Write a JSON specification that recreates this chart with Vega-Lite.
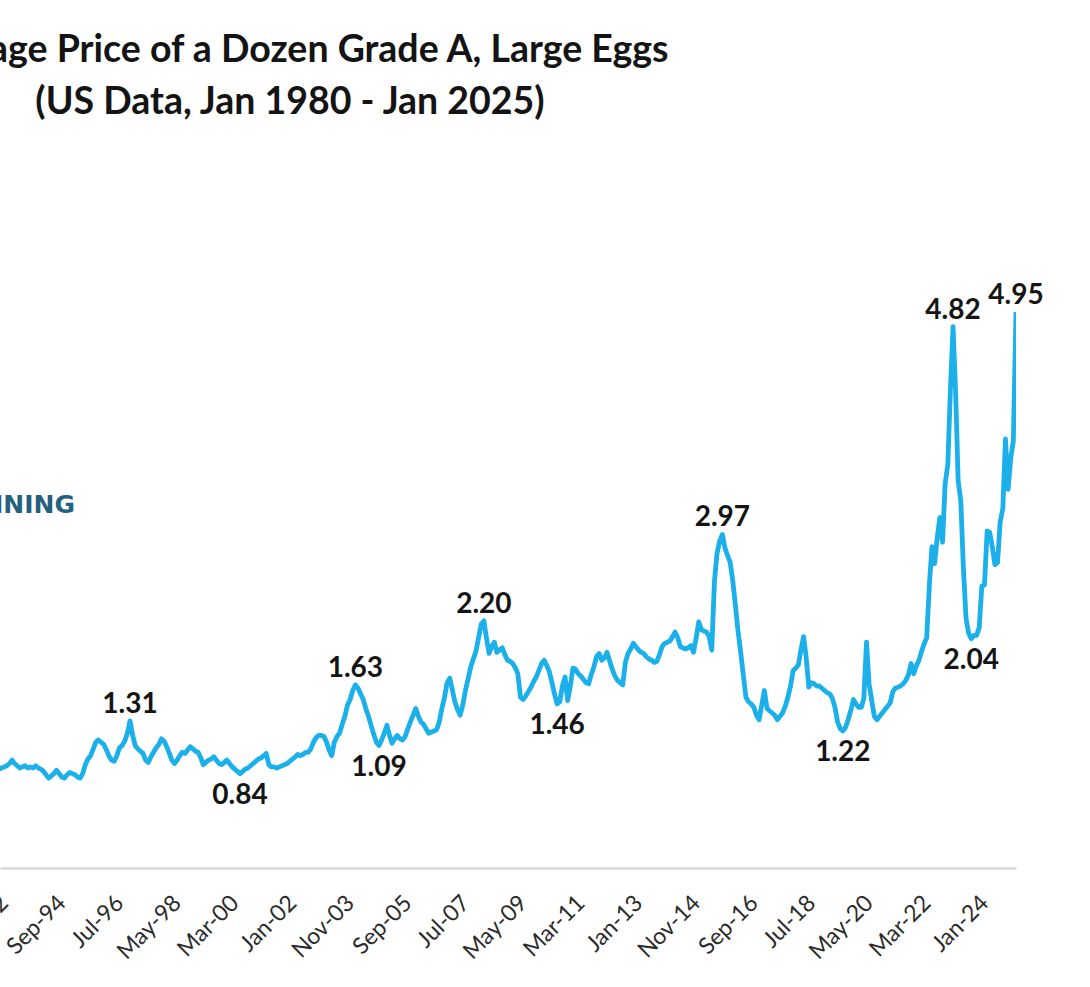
{
  "$schema": "https://vega.github.io/schema/vega-lite/v6.json",
  "width": 1016,
  "height": 674,
  "autosize": {"type": "none"},
  "padding": {"left": 0, "top": 194, "right": 74, "bottom": 119},
  "background": "white",
  "config": {"view": {"stroke": null}, "font": "Lato"},
  "title": {
    "text": ["Average Price of a Dozen Grade A, Large Eggs", "(US Data, Jan 1980 - Jan 2025)"],
    "font": "Lato", "fontSize": 37.5, "fontWeight": "bold", "color": "#141414",
    "lineHeight": 52, "anchor": "middle", "dx": -218, "offset": 73
  },
  "data": {"values": [
    {"date":"1992-08","price":0.88},{"date":"1992-09","price":0.88},{"date":"1992-10","price":0.89},{"date":"1992-11","price":0.90},{"date":"1992-12","price":0.91},
    {"date":"1993-01","price":0.93},{"date":"1993-02","price":0.96},{"date":"1993-03","price":0.93},{"date":"1993-04","price":0.91},{"date":"1993-05","price":0.89},{"date":"1993-06","price":0.90},{"date":"1993-07","price":0.91},{"date":"1993-08","price":0.89},{"date":"1993-09","price":0.90},{"date":"1993-10","price":0.89},{"date":"1993-11","price":0.91},{"date":"1993-12","price":0.89},
    {"date":"1994-01","price":0.88},{"date":"1994-02","price":0.86},{"date":"1994-03","price":0.83},{"date":"1994-04","price":0.80},{"date":"1994-05","price":0.82},{"date":"1994-06","price":0.84},{"date":"1994-07","price":0.87},{"date":"1994-08","price":0.84},{"date":"1994-09","price":0.81},{"date":"1994-10","price":0.80},{"date":"1994-11","price":0.83},{"date":"1994-12","price":0.85},
    {"date":"1995-01","price":0.84},{"date":"1995-02","price":0.83},{"date":"1995-03","price":0.81},{"date":"1995-04","price":0.80},{"date":"1995-05","price":0.84},{"date":"1995-06","price":0.92},{"date":"1995-07","price":0.97},{"date":"1995-08","price":1.00},{"date":"1995-09","price":1.06},{"date":"1995-10","price":1.12},{"date":"1995-11","price":1.14},{"date":"1995-12","price":1.12},
    {"date":"1996-01","price":1.10},{"date":"1996-02","price":1.05},{"date":"1996-03","price":1.00},{"date":"1996-04","price":0.96},{"date":"1996-05","price":0.95},{"date":"1996-06","price":1.00},{"date":"1996-07","price":1.07},{"date":"1996-08","price":1.09},{"date":"1996-09","price":1.13},{"date":"1996-10","price":1.20},{"date":"1996-11","price":1.31,"note":"peak"},{"date":"1996-12","price":1.18},
    {"date":"1997-01","price":1.09},{"date":"1997-02","price":1.06},{"date":"1997-03","price":1.04},{"date":"1997-04","price":1.02},{"date":"1997-05","price":0.96},{"date":"1997-06","price":0.94},{"date":"1997-07","price":0.99},{"date":"1997-08","price":1.03},{"date":"1997-09","price":1.07},{"date":"1997-10","price":1.10},{"date":"1997-11","price":1.15},{"date":"1997-12","price":1.13},
    {"date":"1998-01","price":1.08},{"date":"1998-02","price":1.02},{"date":"1998-03","price":0.96},{"date":"1998-04","price":0.93},{"date":"1998-05","price":0.96},{"date":"1998-06","price":1.00},{"date":"1998-07","price":1.03},{"date":"1998-08","price":1.02},{"date":"1998-09","price":1.05},{"date":"1998-10","price":1.08},{"date":"1998-11","price":1.06},{"date":"1998-12","price":1.04},
    {"date":"1999-01","price":1.03},{"date":"1999-02","price":0.98},{"date":"1999-03","price":0.92},{"date":"1999-04","price":0.94},{"date":"1999-05","price":0.96},{"date":"1999-06","price":0.97},{"date":"1999-07","price":0.99},{"date":"1999-08","price":0.96},{"date":"1999-09","price":0.93},{"date":"1999-10","price":0.92},{"date":"1999-11","price":0.94},{"date":"1999-12","price":0.96},
    {"date":"2000-01","price":0.93},{"date":"2000-02","price":0.90},{"date":"2000-03","price":0.88},{"date":"2000-04","price":0.86},{"date":"2000-05","price":0.84,"note":"trough"},{"date":"2000-06","price":0.86},{"date":"2000-07","price":0.88},{"date":"2000-08","price":0.89},{"date":"2000-09","price":0.91},{"date":"2000-10","price":0.93},{"date":"2000-11","price":0.95},{"date":"2000-12","price":0.97},
    {"date":"2001-01","price":0.98},{"date":"2001-02","price":1.00},{"date":"2001-03","price":1.02},{"date":"2001-04","price":0.92},{"date":"2001-05","price":0.90},{"date":"2001-06","price":0.90},{"date":"2001-07","price":0.89},{"date":"2001-08","price":0.90},{"date":"2001-09","price":0.91},{"date":"2001-10","price":0.92},{"date":"2001-11","price":0.93},{"date":"2001-12","price":0.95},
    {"date":"2002-01","price":0.97},{"date":"2002-02","price":0.99},{"date":"2002-03","price":1.01},{"date":"2002-04","price":1.00},{"date":"2002-05","price":1.01},{"date":"2002-06","price":1.03},{"date":"2002-07","price":1.03},{"date":"2002-08","price":1.06},{"date":"2002-09","price":1.12},{"date":"2002-10","price":1.16},{"date":"2002-11","price":1.18},{"date":"2002-12","price":1.18},
    {"date":"2003-01","price":1.17},{"date":"2003-02","price":1.12},{"date":"2003-03","price":1.05},{"date":"2003-04","price":1.00},{"date":"2003-05","price":1.12},{"date":"2003-06","price":1.17},{"date":"2003-07","price":1.20},{"date":"2003-08","price":1.28},{"date":"2003-09","price":1.35},{"date":"2003-10","price":1.45},{"date":"2003-11","price":1.50},{"date":"2003-12","price":1.58},
    {"date":"2004-01","price":1.63,"note":"peak"},{"date":"2004-02","price":1.60},{"date":"2004-03","price":1.55},{"date":"2004-04","price":1.50},{"date":"2004-05","price":1.42},{"date":"2004-06","price":1.35},{"date":"2004-07","price":1.27},{"date":"2004-08","price":1.19},{"date":"2004-09","price":1.12},{"date":"2004-10","price":1.09,"note":"trough"},{"date":"2004-11","price":1.14},{"date":"2004-12","price":1.20},
    {"date":"2005-01","price":1.27},{"date":"2005-02","price":1.18},{"date":"2005-03","price":1.11},{"date":"2005-04","price":1.15},{"date":"2005-05","price":1.18},{"date":"2005-06","price":1.15},{"date":"2005-07","price":1.14},{"date":"2005-08","price":1.17},{"date":"2005-09","price":1.24},{"date":"2005-10","price":1.30},{"date":"2005-11","price":1.36},{"date":"2005-12","price":1.42},
    {"date":"2006-01","price":1.35},{"date":"2006-02","price":1.30},{"date":"2006-03","price":1.28},{"date":"2006-04","price":1.24},{"date":"2006-05","price":1.20},{"date":"2006-06","price":1.21},{"date":"2006-07","price":1.22},{"date":"2006-08","price":1.23},{"date":"2006-09","price":1.30},{"date":"2006-10","price":1.42},{"date":"2006-11","price":1.52},{"date":"2006-12","price":1.65},
    {"date":"2007-01","price":1.69},{"date":"2007-02","price":1.58},{"date":"2007-03","price":1.48},{"date":"2007-04","price":1.41},{"date":"2007-05","price":1.36},{"date":"2007-06","price":1.45},{"date":"2007-07","price":1.58},{"date":"2007-08","price":1.68},{"date":"2007-09","price":1.79},{"date":"2007-10","price":1.86},{"date":"2007-11","price":1.93},{"date":"2007-12","price":2.05},
    {"date":"2008-01","price":2.17},{"date":"2008-02","price":2.20,"note":"peak"},{"date":"2008-03","price":2.05},{"date":"2008-04","price":1.91},{"date":"2008-05","price":1.97},{"date":"2008-06","price":2.01},{"date":"2008-07","price":1.92},{"date":"2008-08","price":1.94},{"date":"2008-09","price":1.96},{"date":"2008-10","price":1.90},{"date":"2008-11","price":1.85},{"date":"2008-12","price":1.84},
    {"date":"2009-01","price":1.82},{"date":"2009-02","price":1.78},{"date":"2009-03","price":1.73},{"date":"2009-04","price":1.52},{"date":"2009-05","price":1.50},{"date":"2009-06","price":1.53},{"date":"2009-07","price":1.57},{"date":"2009-08","price":1.61},{"date":"2009-09","price":1.66},{"date":"2009-10","price":1.70},{"date":"2009-11","price":1.76},{"date":"2009-12","price":1.82},
    {"date":"2010-01","price":1.85},{"date":"2010-02","price":1.80},{"date":"2010-03","price":1.75},{"date":"2010-04","price":1.65},{"date":"2010-05","price":1.55},{"date":"2010-06","price":1.46,"note":"trough"},{"date":"2010-07","price":1.48},{"date":"2010-08","price":1.62},{"date":"2010-09","price":1.70},{"date":"2010-10","price":1.49},{"date":"2010-11","price":1.62},{"date":"2010-12","price":1.78},
    {"date":"2011-01","price":1.77},{"date":"2011-02","price":1.73},{"date":"2011-03","price":1.71},{"date":"2011-04","price":1.68},{"date":"2011-05","price":1.65},{"date":"2011-06","price":1.64},{"date":"2011-07","price":1.72},{"date":"2011-08","price":1.79},{"date":"2011-09","price":1.88},{"date":"2011-10","price":1.91},{"date":"2011-11","price":1.85},{"date":"2011-12","price":1.87},
    {"date":"2012-01","price":1.92},{"date":"2012-02","price":1.84},{"date":"2012-03","price":1.77},{"date":"2012-04","price":1.71},{"date":"2012-05","price":1.67},{"date":"2012-06","price":1.65},{"date":"2012-07","price":1.63},{"date":"2012-08","price":1.83},{"date":"2012-09","price":1.91},{"date":"2012-10","price":1.95},{"date":"2012-11","price":2.00},{"date":"2012-12","price":1.97},
    {"date":"2013-01","price":1.94},{"date":"2013-02","price":1.92},{"date":"2013-03","price":1.91},{"date":"2013-04","price":1.88},{"date":"2013-05","price":1.86},{"date":"2013-06","price":1.85},{"date":"2013-07","price":1.83},{"date":"2013-08","price":1.84},{"date":"2013-09","price":1.90},{"date":"2013-10","price":1.97},{"date":"2013-11","price":2.00},{"date":"2013-12","price":2.01},
    {"date":"2014-01","price":2.02},{"date":"2014-02","price":2.06},{"date":"2014-03","price":2.10},{"date":"2014-04","price":2.05},{"date":"2014-05","price":1.97},{"date":"2014-06","price":1.96},{"date":"2014-07","price":1.95},{"date":"2014-08","price":1.96},{"date":"2014-09","price":1.98},{"date":"2014-10","price":1.92},{"date":"2014-11","price":2.05},{"date":"2014-12","price":2.19},
    {"date":"2015-01","price":2.12},{"date":"2015-02","price":2.11},{"date":"2015-03","price":2.10},{"date":"2015-04","price":2.06},{"date":"2015-05","price":1.94},{"date":"2015-06","price":2.55},{"date":"2015-07","price":2.80},{"date":"2015-08","price":2.91},{"date":"2015-09","price":2.97,"note":"peak"},{"date":"2015-10","price":2.85},{"date":"2015-11","price":2.78},{"date":"2015-12","price":2.72},
    {"date":"2016-01","price":2.55},{"date":"2016-02","price":2.33},{"date":"2016-03","price":2.11},{"date":"2016-04","price":1.92},{"date":"2016-05","price":1.72},{"date":"2016-06","price":1.52},{"date":"2016-07","price":1.48},{"date":"2016-08","price":1.46},{"date":"2016-09","price":1.43},{"date":"2016-10","price":1.36},{"date":"2016-11","price":1.32},{"date":"2016-12","price":1.45},
    {"date":"2017-01","price":1.58},{"date":"2017-02","price":1.42},{"date":"2017-03","price":1.40},{"date":"2017-04","price":1.38},{"date":"2017-05","price":1.36},{"date":"2017-06","price":1.32},{"date":"2017-07","price":1.35},{"date":"2017-08","price":1.38},{"date":"2017-09","price":1.44},{"date":"2017-10","price":1.52},{"date":"2017-11","price":1.62},{"date":"2017-12","price":1.76},
    {"date":"2018-01","price":1.78},{"date":"2018-02","price":1.81},{"date":"2018-03","price":1.94},{"date":"2018-04","price":2.06},{"date":"2018-05","price":1.88},{"date":"2018-06","price":1.61},{"date":"2018-07","price":1.65},{"date":"2018-08","price":1.64},{"date":"2018-09","price":1.62},{"date":"2018-10","price":1.62},{"date":"2018-11","price":1.60},{"date":"2018-12","price":1.58},
    {"date":"2019-01","price":1.56},{"date":"2019-02","price":1.55},{"date":"2019-03","price":1.51},{"date":"2019-04","price":1.43},{"date":"2019-05","price":1.30},{"date":"2019-06","price":1.24},{"date":"2019-07","price":1.22,"note":"trough"},{"date":"2019-08","price":1.25},{"date":"2019-09","price":1.32},{"date":"2019-10","price":1.40},{"date":"2019-11","price":1.50},{"date":"2019-12","price":1.46},
    {"date":"2020-01","price":1.43},{"date":"2020-02","price":1.43},{"date":"2020-03","price":1.51},{"date":"2020-04","price":2.01},{"date":"2020-05","price":1.64},{"date":"2020-06","price":1.49},{"date":"2020-07","price":1.35},{"date":"2020-08","price":1.32},{"date":"2020-09","price":1.35},{"date":"2020-10","price":1.38},{"date":"2020-11","price":1.41},{"date":"2020-12","price":1.44},
    {"date":"2021-01","price":1.47},{"date":"2021-02","price":1.57},{"date":"2021-03","price":1.60},{"date":"2021-04","price":1.61},{"date":"2021-05","price":1.62},{"date":"2021-06","price":1.64},{"date":"2021-07","price":1.67},{"date":"2021-08","price":1.72},{"date":"2021-09","price":1.82},{"date":"2021-10","price":1.73},{"date":"2021-11","price":1.80},{"date":"2021-12","price":1.85},
    {"date":"2022-01","price":1.93},{"date":"2022-02","price":2.00},{"date":"2022-03","price":2.05},{"date":"2022-04","price":2.52},{"date":"2022-05","price":2.86},{"date":"2022-06","price":2.71},{"date":"2022-07","price":2.94},{"date":"2022-08","price":3.12},{"date":"2022-09","price":2.90},{"date":"2022-10","price":3.42},{"date":"2022-11","price":3.59},{"date":"2022-12","price":4.25},
    {"date":"2023-01","price":4.82,"note":"peak"},{"date":"2023-02","price":4.21},{"date":"2023-03","price":3.45},{"date":"2023-04","price":3.27},{"date":"2023-05","price":2.67},{"date":"2023-06","price":2.22},{"date":"2023-07","price":2.09},{"date":"2023-08","price":2.04,"note":"trough"},{"date":"2023-09","price":2.07},{"date":"2023-10","price":2.07},{"date":"2023-11","price":2.14},{"date":"2023-12","price":2.51},
    {"date":"2024-01","price":2.52},{"date":"2024-02","price":3.00},{"date":"2024-03","price":2.99},{"date":"2024-04","price":2.86},{"date":"2024-05","price":2.70},{"date":"2024-06","price":2.72},{"date":"2024-07","price":3.08},{"date":"2024-08","price":3.20},{"date":"2024-09","price":3.82},{"date":"2024-10","price":3.37},{"date":"2024-11","price":3.65},{"date":"2024-12","price":3.80},
    {"date":"2025-01","price":4.95,"note":"peak"}
  ]},
  "layer": [
    {
      "mark": {"type": "line", "color": "#1cb0ea", "strokeWidth": 4.8, "clip": true, "strokeJoin": "round"},
      "encoding": {
        "x": {
          "field": "date", "type": "temporal",
          "scale": {"domain": [{"year": 1992, "month": 9, "date": 13}, {"year": 2025, "month": 1, "date": 1}]},
          "axis": {
            "title": null,
            "values": [
              {"year": 1992, "month": 11, "date": 1}, {"year": 1994, "month": 9, "date": 1}, {"year": 1996, "month": 7, "date": 1},
              {"year": 1998, "month": 5, "date": 1}, {"year": 2000, "month": 3, "date": 1}, {"year": 2002, "month": 1, "date": 1},
              {"year": 2003, "month": 11, "date": 1}, {"year": 2005, "month": 9, "date": 1}, {"year": 2007, "month": 7, "date": 1},
              {"year": 2009, "month": 5, "date": 1}, {"year": 2011, "month": 3, "date": 1}, {"year": 2013, "month": 1, "date": 1},
              {"year": 2014, "month": 11, "date": 1}, {"year": 2016, "month": 9, "date": 1}, {"year": 2018, "month": 7, "date": 1},
              {"year": 2020, "month": 5, "date": 1}, {"year": 2022, "month": 3, "date": 1}, {"year": 2024, "month": 1, "date": 1}
            ],
            "format": "%b-%y",
            "labelAngle": -45, "labelAlign": "right", "labelBaseline": "middle",
            "labelFont": "Lato", "labelFontSize": 23, "labelColor": "#2b2b2b",
            "labelPadding": 31, "labelOverlap": false, "labelFlush": false, "labelBound": false,
            "ticks": false, "grid": false,
            "domainColor": "#d9d9d9", "domainWidth": 2.5
          }
        },
        "y": {"field": "price", "type": "quantitative", "scale": {"domain": [0, 6], "nice": false, "zero": true}, "axis": null}
      }
    },
    {
      "transform": [{"filter": "datum.note === 'peak'"}],
      "mark": {"type": "text", "font": "Lato", "fontWeight": "bold", "fontSize": 28, "baseline": "middle", "dy": -16, "color": "#141414"},
      "encoding": {
        "x": {"field": "date", "type": "temporal"},
        "y": {"field": "price", "type": "quantitative"},
        "text": {"field": "price", "type": "quantitative", "format": ".2f"}
      }
    },
    {
      "transform": [{"filter": "datum.note === 'trough'"}],
      "mark": {"type": "text", "font": "Lato", "fontWeight": "bold", "fontSize": 28, "baseline": "middle", "dy": 22, "color": "#141414"},
      "encoding": {
        "x": {"field": "date", "type": "temporal"},
        "y": {"field": "price", "type": "quantitative"},
        "text": {"field": "price", "type": "quantitative", "format": ".2f"}
      }
    },
    {
      "data": {"values": [{"brand": "CREATIVE PLANNING"}]},
      "mark": {"type": "text", "font": "DejaVu Sans", "fontWeight": "bold", "fontSize": 25, "align": "right", "baseline": "middle", "color": "#25607f"},
      "encoding": {
        "x": {"datum": {"year": 1995, "month": 2, "date": 1}, "type": "temporal"},
        "y": {"datum": 3.23, "type": "quantitative"},
        "text": {"field": "brand"}
      }
    }
  ]
}
